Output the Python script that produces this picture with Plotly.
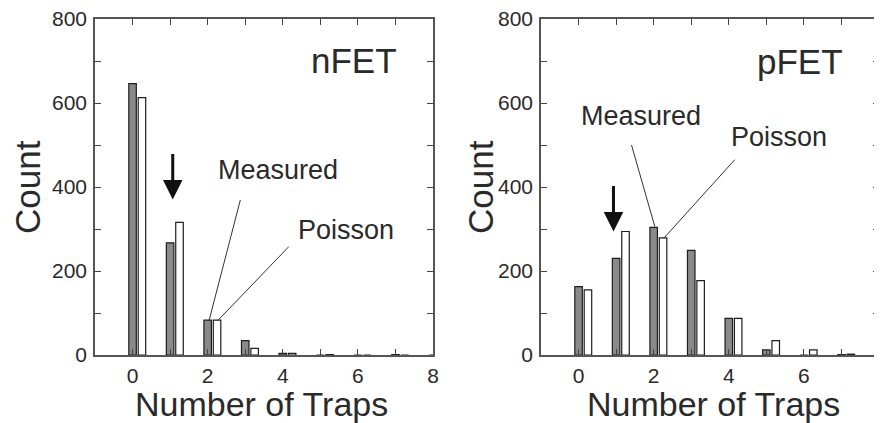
import plotly.graph_objects as go

traps = [0, 1, 2, 3, 4, 5, 6, 7, 8]
n_measured = [646, 267, 83, 34, 4, 0, 0, 1, 0]
n_poisson = [613, 316, 83, 16, 4, 1, 0, 0, 0]
p_measured = [163, 230, 304, 249, 87, 12, 0, 1, 0]
p_poisson = [155, 294, 279, 177, 87, 34, 12, 2, 1]
x_ticks = [0, 2, 4, 6, 8]
y_ticks = [0, 200, 400, 600, 800]

FONT = "Liberation Sans, Arial, sans-serif"
TXT = "#2a2a2a"
GRAY = "#8a8a8a"
EDGE = "#1e1e1e"

fig = go.Figure()

for xa, ya, meas, pois in [("x", "y", n_measured, n_poisson), ("x2", "y2", p_measured, p_poisson)]:
    fig.add_trace(go.Bar(x=traps, y=meas, xaxis=xa, yaxis=ya, width=0.2, offset=-0.1,
                         marker=dict(color=GRAY, line=dict(color=EDGE, width=1.2)), showlegend=False))
    fig.add_trace(go.Bar(x=traps, y=pois, xaxis=xa, yaxis=ya, width=0.2, offset=0.15,
                         marker=dict(color="white", line=dict(color=EDGE, width=1.2)), showlegend=False))

ax_common = dict(
    showline=True, linecolor="#555", linewidth=1.5, mirror="ticks",
    ticks="inside", ticklen=6, tickwidth=1.3, tickcolor="#444",
    showgrid=False, zeroline=False, automargin=False,
    ticklabeloverflow="allow",
    tickfont=dict(family=FONT, size=21, color=TXT),
)

W, H = 882, 423
OFF = 8  # page body margin
def px_x(a, b):
    return [(a - OFF) / W, (b - OFF) / W]
def px_y(top, bot):
    return [1 - (bot - OFF) / H, 1 - (top - OFF) / H]
def pfx(a):
    return (a - OFF) / W
def pfy(a):
    return 1 - (a - OFF) / H

minor_x = dict(dtick=1, tick0=0, ticks="inside", ticklen=6, tickcolor="#444", showgrid=False)
minor_y = dict(dtick=100, tick0=0, ticks="inside", ticklen=6, tickcolor="#444", showgrid=False)

fig.update_layout(
    width=W, height=H, margin=dict(l=0, r=0, t=0, b=0, autoexpand=False),
    paper_bgcolor="white", plot_bgcolor="white",
    barmode="overlay",
    font=dict(family=FONT, color=TXT),
    xaxis=dict(domain=px_x(95, 433), range=[-1, 8], tickvals=x_ticks, minor=minor_x,
               anchor="y", ticklabelstandoff=1, **ax_common),
    yaxis=dict(domain=px_y(19, 355), range=[0, 800], tickvals=y_ticks, minor=minor_y,
               anchor="x", ticklabelstandoff=2, **ax_common),
    xaxis2=dict(domain=px_x(541, 879), range=[-1, 8], tickvals=x_ticks, minor=minor_x,
                anchor="y2", ticklabelstandoff=1, **ax_common),
    yaxis2=dict(domain=px_y(19, 355), range=[0, 800], tickvals=y_ticks, minor=minor_y,
                anchor="x2", ticklabelstandoff=2, **ax_common),
)

ann = []
# axis titles
for cx, label in [(261, "Number of Traps"), (713, "Number of Traps")]:
    ann.append(dict(xref="paper", yref="paper", x=pfx(cx), y=pfy(404), text=label,
                    showarrow=False, font=dict(family=FONT, size=34, color=TXT),
                    xanchor="center", yanchor="middle"))
for cx in [27, 480]:
    ann.append(dict(xref="paper", yref="paper", x=pfx(cx), y=pfy(187), text="Count",
                    showarrow=False, textangle=-90, font=dict(family=FONT, size=35, color=TXT),
                    xanchor="center", yanchor="middle"))

# panel labels
ann.append(dict(xref="x", yref="y", x=7.1, y=702, text="nFET", showarrow=False,
                xanchor="right", yanchor="middle", font=dict(family=FONT, size=35, color=TXT)))
ann.append(dict(xref="x2", yref="y2", x=7.1, y=700, text="pFET", showarrow=False,
                xanchor="right", yanchor="middle", font=dict(family=FONT, size=35, color=TXT)))

# Measured / Poisson labels
ann.append(dict(xref="x", yref="y", x=3.86, y=441, text="Measured", showarrow=False,
                font=dict(family=FONT, size=27, color=TXT)))
ann.append(dict(xref="x", yref="y", x=5.68, y=298, text="Poisson", showarrow=False,
                font=dict(family=FONT, size=27, color=TXT)))
ann.append(dict(xref="x2", yref="y2", x=1.65, y=568, text="Measured", showarrow=False,
                font=dict(family=FONT, size=27, color=TXT)))
ann.append(dict(xref="x2", yref="y2", x=5.35, y=520, text="Poisson", showarrow=False,
                font=dict(family=FONT, size=27, color=TXT)))

# down arrows
ann.append(dict(xref="x", yref="y", axref="x", ayref="y", x=1.07, y=370, ax=1.07, ay=482,
                showarrow=True, arrowhead=2, arrowsize=1.3, arrowwidth=3, arrowcolor="#111", text=""))
ann.append(dict(xref="x2", yref="y2", axref="x2", ayref="y2", x=0.93, y=294, ax=0.93, ay=406,
                showarrow=True, arrowhead=2, arrowsize=1.3, arrowwidth=3, arrowcolor="#111", text=""))

fig.update_layout(annotations=ann)

# leader lines
lines = [
    ("x", "y", 2.87, 369, 2.04, 83),
    ("x", "y", 4.16, 258, 2.28, 83),
    ("x2", "y2", 1.41, 500, 2.03, 306),
    ("x2", "y2", 4.16, 465, 2.27, 278),
]
for xr, yr, x0, y0, x1, y1 in lines:
    fig.add_shape(type="line", xref=xr, yref=yr, x0=x0, y0=y0, x1=x1, y1=y1,
                  line=dict(color="#333", width=1))

fig.write_html("out.html")
